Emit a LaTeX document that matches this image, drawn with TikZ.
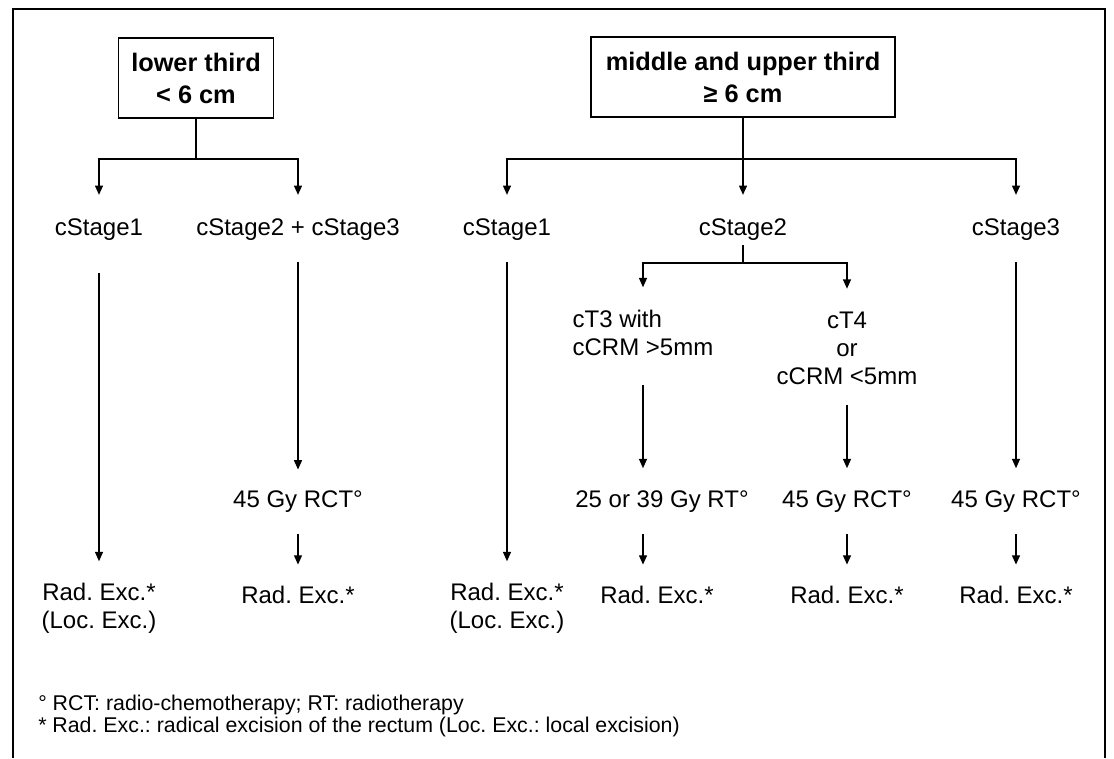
\documentclass[tikz,border=0pt]{standalone}
\usepackage{fontspec}
\setmainfont{Liberation Sans}
\usetikzlibrary{arrows.meta}
\frenchspacing

\begin{document}
\begin{tikzpicture}[x=0.75pt,y=-0.75pt,
    headbox/.style={draw, line width=0.8pt, align=center, minimum height=60pt,
        font=\fontsize{19}{24}\selectfont\bfseries},
    lbl/.style={inner sep=0pt, align=center, font=\fontsize{18}{21}\selectfont},
    link/.style={line width=1pt},
    arr/.style={line width=1pt, -{Triangle[length=7pt,width=6pt]},
        shorten <=16pt, shorten >=16pt},
    foot/.style={inner sep=0pt, anchor=west, font=\fontsize{16}{18}\selectfont}]
\useasboundingbox (0,0) rectangle (1114,758);
% frame, open at the bottom
\draw[line width=0.8pt] (13,758) -- (13,9) -- (1105,9) -- (1105,758);

% location of the tumour
\node[headbox, minimum width=116pt] (low) at (196,78) {lower third\\< 6 cm};
\node[headbox, minimum width=228pt] (mid) at (743,77) {middle and upper third\\≥ 6 cm};

% stages
\node[lbl] (lowS1)  at (99,230)   {cStage1};
\node[lbl] (lowS23) at (298,230)  {cStage2 + cStage3};
\node[lbl] (midS1)  at (507,230)  {cStage1};
\node[lbl] (midS2)  at (743,230)  {cStage2};
\node[lbl] (midS3)  at (1016,230) {cStage3};
\node[lbl, align=left] (cT3) at (643,333) {cT3 with\\cCRM >5mm};
\node[lbl] (cT4) at (847,348) {cT4\\or\\cCRM <5mm};

% therapy
\node[lbl] (rct1) at (298,502)  {45 Gy RCT°};
\node[lbl] (rt)   at (662,502)  {25 or 39 Gy RT°};
\node[lbl] (rct2) at (847,502)  {45 Gy RCT°};
\node[lbl] (rct3) at (1016,502) {45 Gy RCT°};

% surgery
\node[lbl] (exc1) at (99,608)   {Rad. Exc.*\\(Loc. Exc.)};
\node[lbl] (exc2) at (298,595)  {Rad. Exc.*};
\node[lbl] (exc3) at (507,608)  {Rad. Exc.*\\(Loc. Exc.)};
\node[lbl] (exc4) at (657,595)  {Rad. Exc.*};
\node[lbl] (exc5) at (847,595)  {Rad. Exc.*};
\node[lbl] (exc6) at (1016,595) {Rad. Exc.*};

% junctions
\coordinate (lowJ) at (196,159);
\coordinate (midJ) at (743,159);
\coordinate (s2J)  at (743,263);

% branches
\draw[link] (low.south) -- (lowJ);
\draw[arr, shorten <=0pt, shorten >=18pt] (lowJ) -| (lowS1);
\draw[arr, shorten <=0pt, shorten >=18pt] (lowJ) -| (lowS23);
\draw[arr, shorten <=0pt, shorten >=18pt] (mid.south) -- (midS2);
\draw[arr, shorten <=0pt, shorten >=18pt] (midJ) -| (midS1);
\draw[arr, shorten <=0pt, shorten >=18pt] (midJ) -| (midS3);
\draw[link, shorten <=3pt] (midS2.south) -- (s2J);
\draw[arr, shorten <=0pt, shorten >=17pt] (s2J) -| (cT3);
\draw[arr, shorten <=0pt, shorten >=17pt] (s2J) -| (cT4);

% columns
\draw[arr, shorten <=24pt] (lowS1) -- (exc1);
\draw[arr] (lowS23) -- (rct1);
\draw[arr] (rct1) -- (exc2);
\draw[arr] (midS1) -- (exc3);
\draw[arr, shorten <=22pt, shorten >=17pt] (cT3.south) -- (cT3.south |- rt.north);
\draw[arr] (rt.south -| cT3) -- (exc4.north -| cT3);
\draw[arr, shorten <=15pt, shorten >=17pt] (cT4) -- (rct2);
\draw[arr] (rct2) -- (exc5);
\draw[arr, shorten >=17pt] (midS3) -- (rct3);
\draw[arr] (rct3) -- (exc6);

% notes
\node[foot] (note1) at (38,705) {° RCT: radio-chemotherapy; RT: radiotherapy};
\node[foot] (note2) at (38,727) {* Rad. Exc.: radical excision of the rectum (Loc. Exc.: local excision)};
\end{tikzpicture}
\end{document}
